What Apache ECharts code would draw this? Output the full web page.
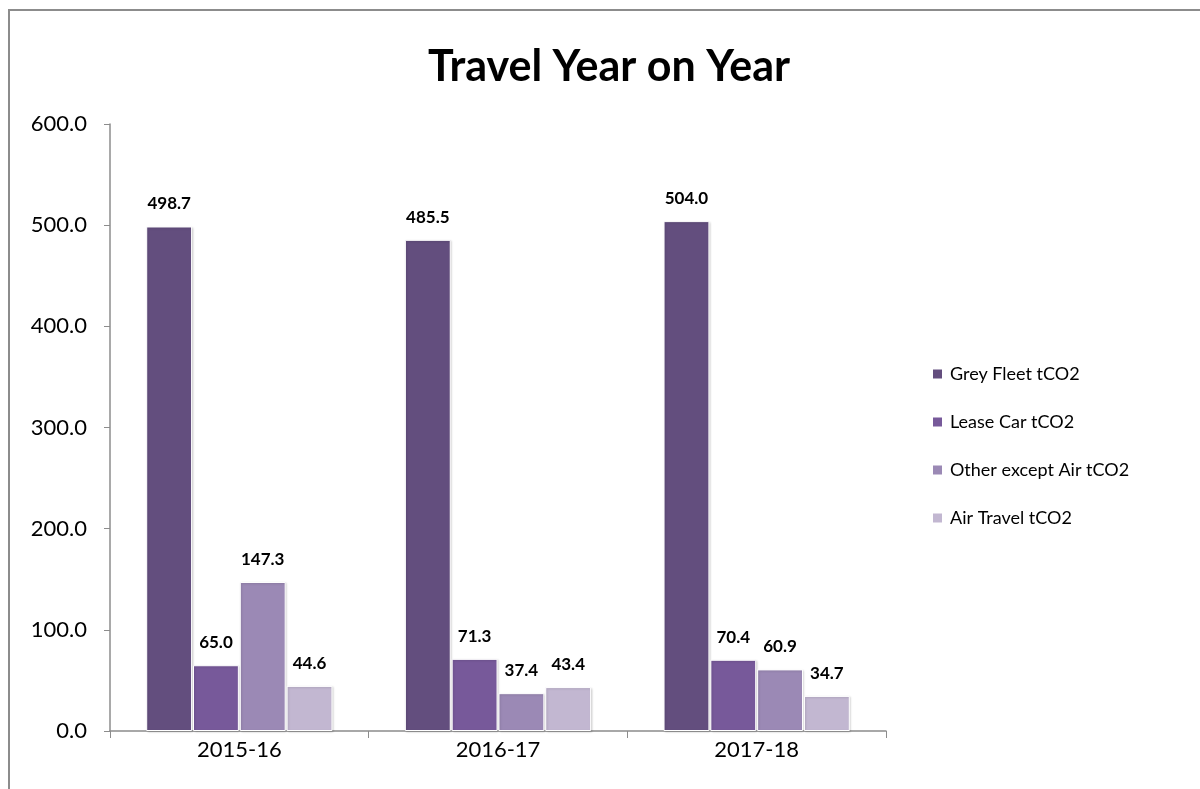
<!DOCTYPE html>
<html>
<head>
<meta charset="utf-8">
<script src="https://cdn.jsdelivr.net/npm/echarts@6/dist/echarts.min.js"></script>
<style>
  html, body { margin: 0; padding: 0; background: #fff; }
  #chart { width: 1200px; height: 789px; }
</style>
</head>
<body>
<div id="chart"></div>
<script>
// Travel emissions by financial year (tCO2)
const years = ['2015-16', '2016-17', '2017-18'];
const greyFleet = [498.7, 485.5, 504.0];
const leaseCar = [65.0, 71.3, 70.4];
const otherExceptAir = [147.3, 37.4, 60.9];
const airTravel = [44.6, 43.4, 34.7];
const seriesNames = ['Grey Fleet tCO2', 'Lease Car tCO2', 'Other except Air tCO2', 'Air Travel tCO2'];
const seriesColors = ['#634E7E', '#77599A', '#9B89B5', '#C2B7D1'];

const FONT = 'Lato, "Open Sans", sans-serif';
const chart = echarts.init(document.getElementById('chart'));

function barSeries(name, data, color) {
  return {
    name: name,
    type: 'bar',
    data: data,
    barGap: '2%',
    barCategoryGap: '28%',
    itemStyle: { color: color, borderColor: '#ffffff', borderWidth: 1,
      shadowColor: 'rgba(0,0,0,0.15)', shadowBlur: 2, shadowOffsetX: 1, shadowOffsetY: 1 },
    label: {
      show: true, position: 'top', distance: 14,
      formatter: p => p.value.toFixed(1),
      fontFamily: FONT, fontWeight: 'bold', fontSize: 17, color: '#000'
    }
  };
}

chart.setOption({
  backgroundColor: '#fff',
  animation: false,
  title: {
    text: 'Travel Year on Year', left: 604, top: 41, textAlign: 'center',
    textStyle: { fontFamily: FONT, fontWeight: 'bold', fontSize: 43, color: '#000' }
  },
  graphic: [{
    type: 'polyline',
    shape: { points: [[9, 800], [9, 10], [1210, 10]] },
    style: { stroke: '#8c8c8c', lineWidth: 2, fill: null },
    silent: true
  }],
  legend: {
    orient: 'vertical', left: 926, top: 360, itemGap: 30,
    itemWidth: 11, itemHeight: 11, icon: 'rect',
    textStyle: { fontFamily: FONT, fontSize: 18, color: '#000', padding: [0, 0, 0, 2] },
    data: seriesNames
  },
  grid: { left: 110, right: 314, top: 124, bottom: 58 },
  xAxis: {
    type: 'category', data: years,
    axisLine: { lineStyle: { color: '#8c8c8c', width: 1.5 } },
    axisTick: { show: true, length: 7, alignWithLabel: false, lineStyle: { color: '#8c8c8c' } },
    axisLabel: { fontFamily: FONT, fontSize: 22, color: '#000', margin: 8 }
  },
  yAxis: {
    type: 'value', min: 0, max: 600, interval: 100,
    axisLine: { show: true, lineStyle: { color: '#8c8c8c', width: 1.5 } },
    axisTick: { show: true, length: 6, lineStyle: { color: '#8c8c8c' } },
    splitLine: { show: false },
    axisLabel: { fontFamily: FONT, fontSize: 22, color: '#000', margin: 23, formatter: v => v.toFixed(1) }
  },
  series: [
    barSeries(seriesNames[0], greyFleet, seriesColors[0]),
    barSeries(seriesNames[1], leaseCar, seriesColors[1]),
    barSeries(seriesNames[2], otherExceptAir, seriesColors[2]),
    barSeries(seriesNames[3], airTravel, seriesColors[3])
  ]
});
</script>
</body>
</html>
